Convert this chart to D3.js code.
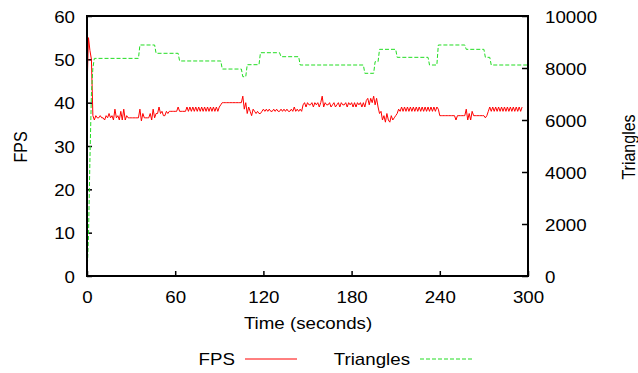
<!DOCTYPE html>
<html><head><meta charset="utf-8">
<script src="https://cdn.jsdelivr.net/npm/d3@7"></script>
<style>body{margin:0;background:#fff}svg{display:block}text{font-family:"Liberation Sans",Arial,sans-serif}</style>
</head><body>
<svg id="c" width="638" height="373"></svg>
<script>
// ---- data ----
const xTicks = [0, 60, 120, 180, 240, 300];
const fpsTicks = [0, 10, 20, 30, 40, 50, 60];
const triTicks = [0, 2000, 4000, 6000, 8000, 10000];
const seriesNames = ["FPS", "Triangles"];
// FPS sampled once per second, t = 0..300
const fps = [
 43,55,52,50,37,36,37,36.5,36.5,37, 36.5,36.5,36,37,36.5,37.5,36.5,37,36,38.5,
 36.5,37,36,38,36,38.5,36,37,36.5,36.5, 36.5,36.5,36.5,36.5,36.5,36.5,38.5,35.8,37.5,36.5,
 36.5,36.5,36.5,37.5,36,38.5,36.5,37.5,37.5,39, 37.5,38,37,37,38,37.5,38,38,38,38,
 38,38,39,38,38,38,38,38,39,38, 39,38,39,38,39,38,39,38,39,38, 39,38,39,38,39,38,39,38,39,38,
 39,39.5,40,40,40,40,40,40,40,40, 40,40,40,40,40,40,41.5,38.5,40,37.5, 39,38,37,38.5,38,37.5,38,37.5,37.5,38,
 38.5,38,38.5,38,38.5,38,38,38.5,38,38.5, 38,38,38.5,38,38.5,38,38.5,38,38,38.5, 38,39,38,38.5,38,38.5,38,39.5,40,39,
 40,39.5,39.5,40,39,40,39.5,40,39,40, 41.5,39,40,39.5,39.5,40,39,39.5,40,39, 39.5,40,39,40,39.5,39.5,40,39,40,39.5,
 40,39,40,39,40,39.5,40,39,40,39, 40.5,41,39.5,41,40,41.5,39.5,41,39,37.5, 38,36,37,35.5,37.5,36,35.5,37,36,36.5,
 37,37.5,38.5,38,39,38,39,38,39,38, 39,38,39,38,39,38,39,38,39,38, 39,38,39,38,39,38,39,38,39,38.5,
 37,37,37,37,37,37,37,37,37,37, 37,36,37,37,37,37,37,37,38.5,36, 37.5,36,38,37,37,37,37,37,37,37,
 37,36.5,37,38,39,38,39,38,39,38, 39,38,39,38,39,38,39,38,39,38, 39,38,39,38,39,38,39
];
const fpsTime = fps.map((d, i) => i);
// Triangles: sample times and counts (steps)
const triTime = [0,1,2,3,4,5,35,36,46,47,62,63,91,92,105,106,108,109,117,118,131,132,144,145,188,189,195,196,198,199,210,211,232,233,238,239,257,258,270,271,274,275,300];
const triVal  = [0,1500,4500,7000,8000,8370,8370,8885,8885,8565,8565,8270,8270,7960,7960,7665,7665,8127,8127,8588,8588,8435,8435,8115,8115,7796,7796,8243,8243,8718,8718,8410,8410,8115,8115,8885,8885,8718,8718,8410,8410,8115,8115];

// ---- layout ----
const SX = 1.17, FS = 16;
const L = 87, R = 528, T = 16, B = 276;
const svg = d3.select("#c");
const x = d3.scaleLinear().domain([0, 300]).range([L, R]);
const y = d3.scaleLinear().domain([0, 60]).range([B, T]);
const y2 = d3.scaleLinear().domain([0, 10000]).range([B, T]);

function styleAxis(g, dx, dy, anchor) {
  g.select(".domain").remove();
  g.selectAll(".tick line").attr("stroke", "#000").attr("stroke-width", 1.5);
  g.selectAll(".tick text").attr("x", null).attr("y", null).attr("dy", null)
    .attr("font-size", FS).attr("fill", "#000").attr("text-anchor", anchor)
    .attr("transform", `translate(${dx},${dy}) scale(${SX},1)`);
}
const gx = svg.append("g").attr("transform", `translate(0,${B})`)
  .call(d3.axisBottom(x).tickValues(xTicks).tickSize(-5).tickFormat(d3.format("d")));
styleAxis(gx, 0, 27, "middle");
const gy = svg.append("g").attr("transform", `translate(${L},0)`)
  .call(d3.axisLeft(y).tickValues(fpsTicks).tickSize(-5).tickFormat(d3.format("d")));
styleAxis(gy, -12, 6, "end");
const gy2 = svg.append("g").attr("transform", `translate(${R},0)`)
  .call(d3.axisRight(y2).tickValues(triTicks).tickSize(-6).tickFormat(d3.format("d")));
styleAxis(gy2, 17, 6, "start");

// clip
svg.append("clipPath").attr("id", "clip").append("rect")
  .attr("x", L).attr("y", T).attr("width", R - L).attr("height", B - T);

const lineF = d3.line().x((d, i) => x(fpsTime[i])).y(d => y(d));
svg.append("path").datum(fps).attr("d", lineF).attr("fill", "none")
  .attr("stroke", "#ff0000").attr("stroke-width", 1).attr("clip-path", "url(#clip)");
const lineT = d3.line().x((d, i) => x(triTime[i])).y(d => y2(d));
svg.append("path").datum(triVal).attr("d", lineT).attr("fill", "none")
  .attr("stroke", "#22dd22").attr("stroke-width", 1).attr("stroke-dasharray", "4,2")
  .attr("clip-path", "url(#clip)");

// frame
svg.append("rect").attr("x", L).attr("y", T).attr("width", R - L).attr("height", B - T)
  .attr("fill", "none").attr("stroke", "#000").attr("stroke-width", 2);

// axis titles
function txt(xp, yp, s, anchor, rot) {
  svg.append("text").attr("transform", `translate(${xp},${yp}) scale(${SX},1)` + (rot ? " rotate(-90)" : ""))
    .attr("text-anchor", anchor).attr("font-size", FS).attr("fill", "#000")
    .attr("dy", rot ? "0.36em" : null).text(s);
}
txt((L + R) / 2 + 0.5, 329, "Time (seconds)", "middle");
txt(20, 147, "FPS", "middle", true);
txt(628, 147, "Triangles", "middle", true);

// legend
const legend = [
  {name: seriesNames[0], tx: 235, lx: 245, color: "#ff0000", dash: null},
  {name: seriesNames[1], tx: 410, lx: 420, color: "#22dd22", dash: "4,2"}
];
legend.forEach(l => {
  txt(l.tx, 365, l.name, "end");
  svg.append("line").attr("x1", l.lx).attr("x2", l.lx + 52).attr("y1", 359).attr("y2", 359)
    .attr("stroke", l.color).attr("stroke-width", 1).attr("stroke-dasharray", l.dash);
});
</script>
</body></html>
